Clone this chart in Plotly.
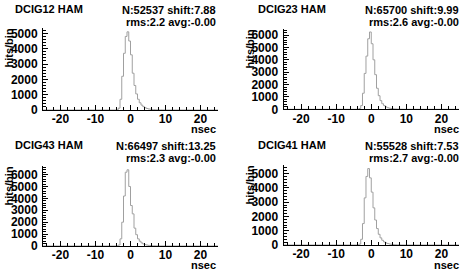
import plotly.graph_objects as go

# ---- data ----
panel_names = ["DCIG12 HAM", "DCIG23 HAM", "DCIG43 HAM", "DCIG41 HAM"]
stat_line1 = ["N:52537 shift:7.88", "N:65700 shift:9.99", "N:66497 shift:13.25", "N:55528 shift:7.53"]
stat_line2 = ["rms:2.2 avg:-0.00", "rms:2.6 avg:-0.00", "rms:2.3 avg:-0.00", "rms:2.7 avg:-0.00"]

x_range = [-25, 25]
# left edges of the 0.5 ns bins that have entries
bin_left_edges = [-4.0, -3.5, -3.0, -2.5, -2.0, -1.5, -1.0, -0.5, 0.0, 0.5, 1.0, 1.5, 2.0, 2.5,
                  3.0, 3.5, 4.0, 4.5, 5.0, 5.5, 6.0, 6.5, 7.0, 7.5, 8.0, 8.5, 9.0]
bin_width = 0.5

counts_dcig12 = [20, 120, 700, 2200, 3700, 4800, 5100, 4500, 3600, 2400, 1600, 1050, 700, 470,
                 320, 220, 150, 100, 70, 50, 35, 25, 18, 12, 8, 5, 3]
counts_dcig23 = [10, 60, 300, 1300, 2900, 4300, 5700, 6250, 5300, 4000, 2800, 1700, 1100, 700,
                 450, 300, 200, 130, 90, 60, 40, 28, 20, 14, 10, 6, 4]
counts_dcig43 = [15, 80, 600, 2000, 4200, 6200, 6400, 5000, 3400, 2700, 1500, 950, 600, 400,
                 260, 170, 115, 80, 55, 38, 26, 18, 12, 8, 5, 3, 2]
counts_dcig41 = [10, 60, 400, 1500, 3300, 4800, 5350, 4700, 3700, 2600, 1750, 1150, 750, 500,
                 330, 220, 150, 100, 70, 48, 33, 23, 16, 11, 7, 5, 3]
all_counts = [counts_dcig12, counts_dcig23, counts_dcig43, counts_dcig41]

y_max = [5350, 6490, 6720, 5600]

x_tickvals = [-20, -10, 0, 10, 20]
x_ticktext = ["-20", "-10", "0", "10", "20"]
y_tickvals = [0, 1000, 2000, 3000, 4000, 5000, 6000]
y_ticktext = ["0", "1000", "2000", "3000", "4000", "5000", "6000"]

# ---- layout geometry (pixels) ----
W, H = 463, 272
# (left, right, top, bottom) of each frame in px
frames = [(43, 218, 28, 110), (283.5, 459, 29, 109.3),
          (43, 218, 166, 246), (283.5, 459, 165, 245)]

FONT = "Liberation Sans, Arial, Helvetica, sans-serif"
LINE_COLOR = "#a0a0a0"

fig = go.Figure()
for i, counts in enumerate(all_counts):
    xs = [x_range[0]] + bin_left_edges + [bin_left_edges[-1] + bin_width, x_range[1]]
    ys = [0] + counts + [0, 0]
    ax = "" if i == 0 else str(i + 1)
    fig.add_trace(go.Scatter(x=xs, y=ys, mode="lines", line=dict(color=LINE_COLOR, width=1, shape="hv"),
                             xaxis="x" + ax, yaxis="y" + ax, showlegend=False, hoverinfo="skip"))

def bold(s):
    return "<b>" + s + "</b>"

for i in range(4):
    l, r, t, b = frames[i]
    ax = "" if i == 0 else str(i + 1)
    tickfont = dict(family=FONT, size=12, color="black")
    yv = [v for v in y_tickvals if v <= y_max[i]]
    yt = [bold(y_ticktext[k]) for k, v in enumerate(y_tickvals) if v <= y_max[i]]
    fig.layout["xaxis" + ax] = dict(
        domain=[l / W, r / W], range=x_range, anchor="y" + ax, automargin=False,
        showgrid=False, zeroline=False, showline=True, linecolor="black", linewidth=1,
        ticks="inside", ticklen=5, tickcolor="black", tickwidth=1,
        tickvals=x_tickvals, ticktext=[bold(s) for s in x_ticktext], tickfont=tickfont,
        ticklabelstandoff=-2,
        minor=dict(dtick=2, ticks="inside", ticklen=3, tickcolor="black"),
        fixedrange=True,
    )
    fig.layout["yaxis" + ax] = dict(
        domain=[1 - b / H, 1 - t / H], range=[0, y_max[i]], anchor="x" + ax, automargin=False,
        showgrid=False, zeroline=False, showline=True, linecolor="black", linewidth=1,
        ticks="inside", ticklen=5, tickcolor="black", tickwidth=1,
        tickvals=yv, ticktext=yt, tickfont=tickfont, ticklabelstandoff=2,
        minor=dict(dtick=200, ticks="inside", ticklen=3, tickcolor="black"),
        fixedrange=True,
    )

annots = []
afont = dict(family=FONT, size=11, color="black")
title_pos = [(13, 8.5), (256, 8.5), (13, 144.5), (256, 144.5)]
for i in range(4):
    l, r, t, b = frames[i]
    rx = 218 if i in (0, 2) else 461
    off = 0 if i < 2 else 136
    tx, ty = title_pos[i]
    annots.append(dict(text=bold(panel_names[i]), x=tx / W, y=1 - ty / H, xref="paper", yref="paper",
                       xanchor="left", yanchor="middle", showarrow=False, font=afont))
    annots.append(dict(text=bold(stat_line1[i]), x=rx / W, y=1 - (10 + off) / H, xref="paper", yref="paper",
                       xanchor="right", yanchor="middle", showarrow=False, font=afont))
    annots.append(dict(text=bold(stat_line2[i]), x=rx / W, y=1 - (22 + off) / H, xref="paper", yref="paper",
                       xanchor="right", yanchor="middle", showarrow=False, font=afont))
    hx = 8.5 if i in (0, 2) else 249.5
    annots.append(dict(text=bold("hits/bin"), x=hx / W, y=1 - (t + 20) / H, xref="paper", yref="paper",
                       xanchor="center", yanchor="middle", textangle=-90, showarrow=False, font=afont))
    annots.append(dict(text=bold("nsec"), x=rx / W, y=1 - (129 + off) / H, xref="paper", yref="paper",
                       xanchor="right", yanchor="middle", showarrow=False, font=afont))

fig.update_layout(width=W, height=H, margin=dict(l=0, r=0, t=0, b=0), template="none",
                  paper_bgcolor="white", plot_bgcolor="white", annotations=annots)
fig.write_html("out.html", config={"displayModeBar": False},
               post_script="document.body.style.margin='0';document.body.style.overflow='hidden';")
